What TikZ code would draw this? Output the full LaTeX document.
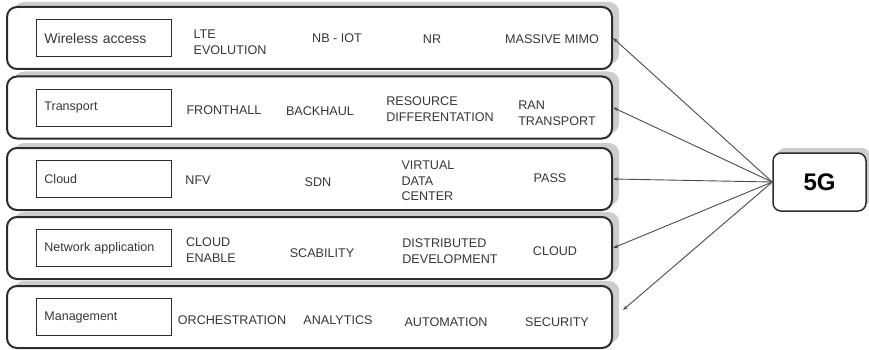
\documentclass[tikz,border=0pt]{standalone}
\usepackage{fontspec}
\setmainfont{Liberation Sans}
\usetikzlibrary{arrows.meta,positioning,shadows}
\definecolor{ink}{RGB}{45,45,45}
\definecolor{txt}{RGB}{55,55,55}
\definecolor{shade}{RGB}{205,205,205}
\definecolor{wire}{RGB}{75,75,75}
\tikzset{
  every picture/.style={line width=1pt},
  layer/.style={draw=ink, line width=2pt, rounded corners=10pt, fill=white, minimum width=605pt, minimum height=62pt,
    general shadow={fill=shade, shadow xshift=7pt, shadow yshift=5pt}},
  tag/.style={draw=ink, line width=0.9pt, text=txt, font=\fontsize{12.5}{15}\selectfont, text width=119pt, inner sep=8pt, minimum height=37pt, align=left},
  item/.style={text=txt, font=\fontsize{12.6}{15.5}\selectfont, align=left, inner sep=1pt},
  hub/.style={draw=ink, line width=1.5pt, rounded corners=8pt, fill=white, minimum width=93pt, minimum height=58pt,
    font=\fontsize{24}{24}\selectfont\bfseries, general shadow={fill=shade, shadow xshift=4pt, shadow yshift=5pt}},
  link/.style={-{Stealth[length=5pt,width=3.5pt]}, draw=wire, line width=0.9pt},
}

\begin{document}
\begin{tikzpicture}[x=1pt, y=1pt]
  \useasboundingbox (0,0) rectangle (869,-350);
  % layers
  \node[layer] (r1) at (309.5,-38) {};
  \node[layer] (r2) at (309.5,-107.5) {};
  \node[layer] (r3) at (309.5,-179) {};
  \node[layer] (r4) at (309.5,-248) {};
  \node[layer] (r5) at (309.5,-317) {};
  % layer names
  \node[tag, right=30pt of r1.west, font=\fontsize{14}{16}\selectfont] (wireless) {Wireless access};
  \node[tag, right=30pt of r2.west] (transport) {Transport};
  \node[tag, right=30pt of r3.west] (cloud) {Cloud};
  \node[tag, right=30pt of r4.west] (netapp) {Network application};
  \node[tag, right=30pt of r5.west] (mgmt) {Management};
  % wireless access
  \node[item] (lte) at (230,-42) {LTE\\EVOLUTION};
  \node[item] (nbiot) at (337,-38) {NB - IOT};
  \node[item] (nr) at (432,-39) {NR};
  \node[item] (mimo) at (552,-39) {MASSIVE MIMO};
  % transport
  \node[item] (fronthaul) at (224,-110) {FRONTHALL};
  \node[item] (backhaul) at (320,-111) {BACKHAUL};
  \node[item] (resource) at (440,-109) {RESOURCE\\DIFFERENTATION};
  \node[item] (ran) at (557,-113) {RAN\\TRANSPORT};
  % cloud
  \node[item] (nfv) at (198,-180) {NFV};
  \node[item] (sdn) at (318,-182) {SDN};
  \node[item] (vdc) at (428,-181) {VIRTUAL\\DATA\\CENTER};
  \node[item] (pass) at (550,-178) {PASS};
  % network application
  \node[item] (enable) at (211,-250) {CLOUD\\ENABLE};
  \node[item] (scab) at (322,-253) {SCABILITY};
  \node[item] (distrib) at (450,-251) {DISTRIBUTED\\DEVELOPMENT};
  \node[item] (cloudapp) at (555,-251) {CLOUD};
  % management
  \node[item] (orch) at (232,-320) {ORCHESTRATION};
  \node[item] (analytics) at (338,-320) {ANALYTICS};
  \node[item] (auto) at (446,-322) {AUTOMATION};
  \node[item] (security) at (557,-322) {SECURITY};
  % 5G hub
  \node[hub] (fiveg) at (819.5,-182) {5G};
  \coordinate (r5end) at ([xshift=10pt, yshift=7pt]r5.east);
  \foreach \t in {r1,r2,r3,r4}
    \draw[link] (fiveg.west) -- (\t.east);
  \draw[link] (fiveg.west) -- (r5end);
\end{tikzpicture}
\end{document}
